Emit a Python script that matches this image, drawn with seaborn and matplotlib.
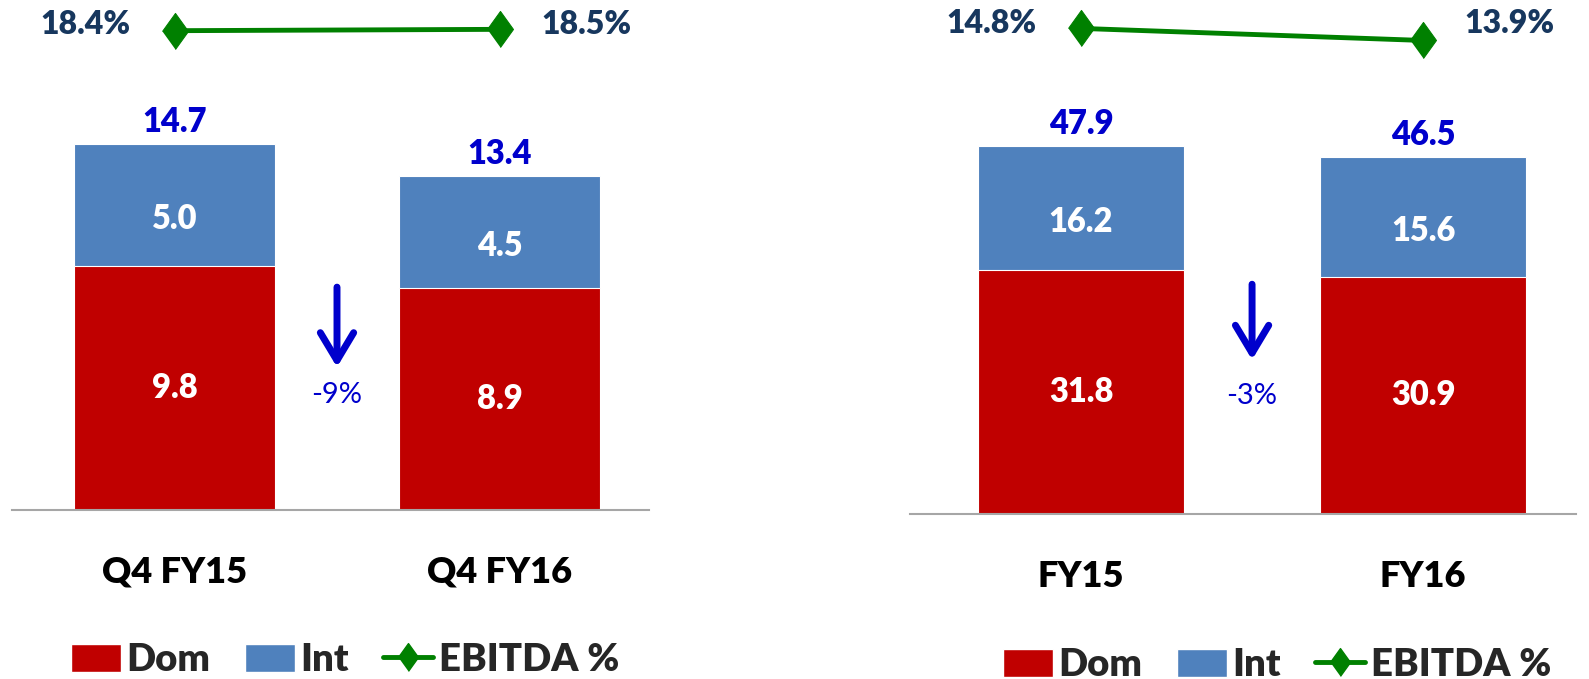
import numpy as np
import pandas as pd
import matplotlib.pyplot as plt
import seaborn as sns
from matplotlib.patches import Patch
from matplotlib.lines import Line2D

# 1. Data -------------------------------------------------------------
quarter_periods = ["Q4 FY15", "Q4 FY16"]
quarter_dom = [9.8, 8.9]
quarter_int = [5.0, 4.5]
quarter_total = [14.7, 13.4]
quarter_ebitda = [18.4, 18.5]
quarter_change = "-9%"

year_periods = ["FY15", "FY16"]
year_dom = [31.8, 30.9]
year_int = [16.2, 15.6]
year_total = [47.9, 46.5]
year_ebitda = [14.8, 13.9]
year_change = "-3%"

# 2. Styling ----------------------------------------------------------
sns.set_style("white")
plt.rcParams["font.family"] = ["Lato", "Liberation Sans", "DejaVu Sans"]

dom_color = "#C00000"
int_color = "#4F81BD"
line_color = "#008000"
total_color = "#0000CC"
pct_color = "#17375E"
bold = "heavy"
diamond = [(-0.72, 0), (0, 1), (0.72, 0), (0, -1)]


def draw_panel(ax, periods, dom, intl, total, ebitda, change, ymax, line_lim, xmax, width,
               arrow_y, change_y, pct_y):
    df = pd.DataFrame({"period": periods, "dom": dom, "int": intl, "total": total})

    # stacked look: full total bar in blue, domestic part drawn over it in red
    sns.barplot(data=df, x="period", y="total", color=int_color, width=width,
                saturation=1, ax=ax, edgecolor="white", linewidth=0.8)
    sns.barplot(data=df, x="period", y="dom", color=dom_color, width=width,
                saturation=1, ax=ax, edgecolor="white", linewidth=0.8)

    ax.set_xlim(-0.5, xmax)
    ax.set_ylim(0, ymax)
    ax.set_xlabel("")
    ax.set_ylabel("")
    ax.set_yticks([])
    for s in ["top", "left", "right"]:
        ax.spines[s].set_visible(False)
    ax.spines["bottom"].set_color("#A6A6A6")
    ax.spines["bottom"].set_linewidth(1.5)
    ax.tick_params(axis="x", length=0, pad=33, labelsize=26, labelcolor="black")
    for lab in ax.get_xticklabels():
        lab.set_fontweight(bold)

    for i in range(len(periods)):
        ax.annotate(f"{total[i]:.1f}", xy=(i, total[i]), xytext=(0, 16),
                    textcoords="offset points", ha="center", va="center",
                    fontsize=23.5, fontweight=bold, color=total_color)
        ax.annotate(f"{intl[i]:.1f}", xy=(i, (dom[i] + total[i]) / 2), xytext=(0, -10),
                    textcoords="offset points", ha="center", va="center",
                    fontsize=23.5, fontweight=bold, color="white")
        ax.text(i, dom[i] / 2, f"{dom[i]:.1f}", ha="center", va="center",
                fontsize=23.5, fontweight=bold, color="white")

    # EBITDA margin line on its own scale
    ax2 = ax.twinx()
    sns.lineplot(x=[0, 1], y=ebitda, ax=ax2, color=line_color, linewidth=3.5,
                 marker=diamond, markersize=26, markeredgecolor=line_color,
                 markerfacecolor=line_color)
    ax2.set_ylim(*line_lim)
    ax2.set_yticks([])
    ax2.set_ylabel("")
    for s in ax2.spines.values():
        s.set_visible(False)

    ax.annotate(f"{ebitda[0]:.1f}%", xy=(0, pct_y), xycoords=("data", "axes fraction"),
                xytext=(-32, 0), textcoords="offset points", ha="right", va="center",
                fontsize=23, fontweight=bold, color=pct_color)
    ax.annotate(f"{ebitda[1]:.1f}%", xy=(1, pct_y), xycoords=("data", "axes fraction"),
                xytext=(30, 0), textcoords="offset points", ha="left", va="center",
                fontsize=23, fontweight=bold, color=pct_color)

    # change arrow between the bars
    ax.annotate("", xy=(0.5, arrow_y[1]), xytext=(0.5, arrow_y[0]),
                xycoords=("data", "axes fraction"), textcoords=("data", "axes fraction"),
                arrowprops=dict(arrowstyle="->,head_length=1.0,head_width=0.6",
                                color=total_color, lw=5, mutation_scale=20,
                                shrinkA=0, shrinkB=0))
    ax.annotate(change, xy=(0.5, change_y), xycoords=("data", "axes fraction"),
                ha="center", va="center", fontsize=21, color=total_color)


fig = plt.figure(figsize=(15.89, 6.79), dpi=100)
ax_left = fig.add_axes([12 / 1589, 1 - 510 / 679, 637 / 1589, 510 / 679])
ax_right = fig.add_axes([910 / 1589, 1 - 514 / 679, 666 / 1589, 514 / 679])

draw_panel(ax_left, quarter_periods, quarter_dom, quarter_int, quarter_total,
           quarter_ebitda, quarter_change, 20.48, (-17.37, 20.69), 1.46, 0.617,
           (0.437, 0.28), 0.225, 0.951)
draw_panel(ax_right, year_periods, year_dom, year_int, year_total,
           year_ebitda, year_change, 66.9, (-21.44, 16.92), 1.447, 0.60,
           (0.447, 0.30), 0.229, 0.955)

# Legends
handles = [
    Patch(facecolor=dom_color, edgecolor="white"),
    Patch(facecolor=int_color, edgecolor="white"),
    Line2D([0], [0], color=line_color, lw=3.5, marker=diamond, markersize=20),
]
labels = ["Dom", "Int", "EBITDA %"]
for cx, cy in [(345 / 1589, 1 - 660 / 679), (1277 / 1589, 1 - 665 / 679)]:
    leg = fig.legend(handles, labels, loc="center", bbox_to_anchor=(cx, cy), ncol=3,
                     frameon=False, handlelength=1.3, handleheight=0.75,
                     handletextpad=0.15, columnspacing=0.9,
                     prop={"weight": bold, "size": 27.5})

plt.savefig("out.png", dpi=100)
